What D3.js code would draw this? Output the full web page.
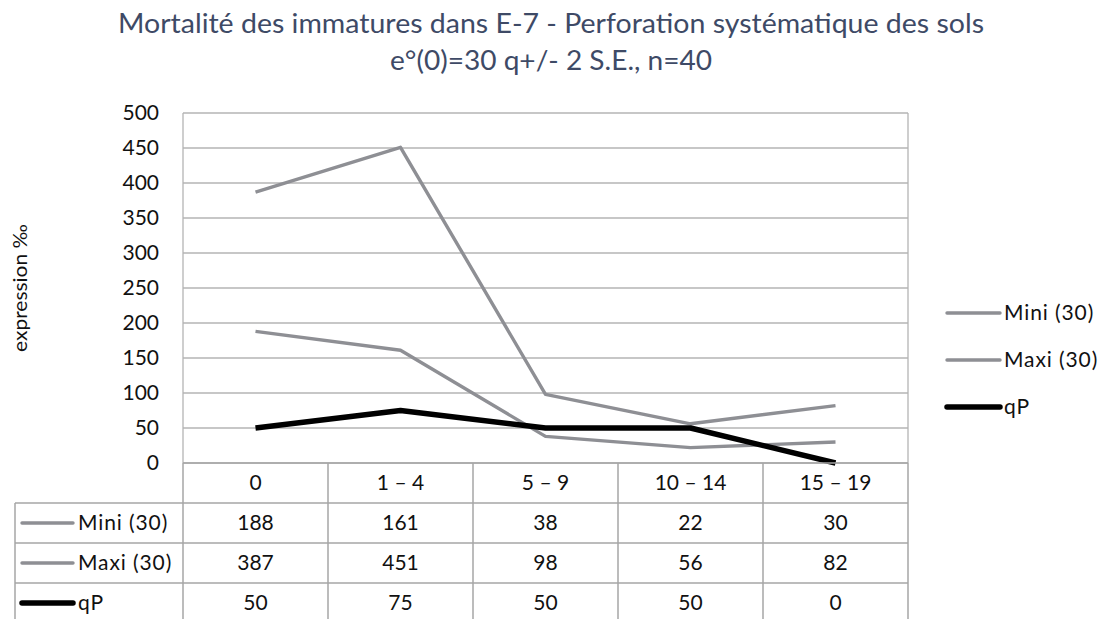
<!DOCTYPE html>
<html>
<head>
<meta charset="utf-8">
<script src="https://cdn.jsdelivr.net/npm/d3@7"></script>
<style>
  html, body { margin: 0; padding: 0; background: #fff; }
  svg { display: block; }
  text { font-family: Lato, "Open Sans", sans-serif; }
</style>
</head>
<body>
<svg id="chart" width="1107" height="619"></svg>
<script>
// Age groups (x categories)
const categories = ["0", "1 – 4", "5 – 9", "10 – 14", "15 – 19"];
// Mortality series, per thousand
const miniValues = [188, 161, 38, 22, 30];
const maxiValues = [387, 451, 98, 56, 82];
const qpValues = [50, 75, 50, 50, 0];
const yTicks = [0, 50, 100, 150, 200, 250, 300, 350, 400, 450, 500];

const series = [
  { name: "Mini (30)", values: miniValues, color: "#8e8f94", width: 3.4 },
  { name: "Maxi (30)", values: maxiValues, color: "#8e8f94", width: 3.4 },
  { name: "qP", values: qpValues, color: "#000000", width: 5.5 }
];

const svg = d3.select("#chart");
const plot = { left: 183, right: 908, top: 113, bottom: 463 };
const tableLeft = 15;
const rowH = 40;
const labelSize = 21;

const x = d3.scaleBand().domain(categories).range([plot.left, plot.right]);
const y = d3.scaleLinear().domain([0, 500]).range([plot.bottom, plot.top]);

// Stretch a text element to a given width
function fitWidth(sel, w) {
  sel.attr("textLength", w).attr("lengthAdjust", "spacingAndGlyphs");
}

// Title
const title = svg.append("g").attr("fill", "#3e4a66").attr("font-size", 26).attr("text-anchor", "middle");
title.append("text").attr("x", 551).attr("y", 33)
  .text("Mortalité des immatures dans E-7 - Perforation systématique des sols")
  .call(fitWidth, 866);
title.append("text").attr("x", 551).attr("y", 70)
  .text("e°(0)=30 q+/- 2 S.E., n=40")
  .call(fitWidth, 322);

// Horizontal gridlines
svg.append("g").selectAll("line").data(yTicks).join("line")
  .attr("x1", plot.left).attr("x2", plot.right)
  .attr("y1", d => y(d)).attr("y2", d => y(d))
  .attr("stroke", "#b4b4b4").attr("stroke-width", 1.3);

// Plot frame sides
svg.append("line").attr("x1", plot.left).attr("x2", plot.left).attr("y1", plot.top).attr("y2", plot.bottom)
  .attr("stroke", "#b4b4b4").attr("stroke-width", 1.3);
svg.append("line").attr("x1", plot.right).attr("x2", plot.right).attr("y1", plot.top).attr("y2", plot.bottom)
  .attr("stroke", "#b4b4b4").attr("stroke-width", 1.3);

// Y axis labels
const yAxis = d3.axisLeft(y).tickValues(yTicks).tickSize(0).tickPadding(0).tickFormat(d3.format("d"));
const yg = svg.append("g").attr("transform", `translate(${plot.left - 24},0)`).call(yAxis);
yg.select(".domain").remove();
yg.selectAll("text").attr("font-size", labelSize).attr("fill", "#111").attr("font-family", "Lato, sans-serif");

// Y axis title
svg.append("text")
  .attr("transform", "translate(27,288) rotate(-90)")
  .attr("text-anchor", "middle").attr("font-size", 19).attr("fill", "#111")
  .text("expression ‰")
  .call(fitWidth, 128);

// Series lines
const line = d3.line().x((d, i) => x(categories[i]) + x.bandwidth() / 2).y(d => y(d));
svg.append("g").selectAll("path").data(series).join("path")
  .attr("d", d => line(d.values))
  .attr("fill", "none")
  .attr("stroke", d => d.color)
  .attr("stroke-width", d => d.width)
  .attr("stroke-linejoin", "round");

// Legend
const legend = svg.append("g");
series.forEach((s, i) => {
  const ly = 313 + i * 47;
  legend.append("line").attr("x1", 947).attr("x2", 1000).attr("y1", ly).attr("y2", ly)
    .attr("stroke", s.color).attr("stroke-width", s.width).attr("stroke-linecap", "round");
  legend.append("text").attr("x", 1004).attr("y", ly).attr("dy", "0.35em")
    .attr("font-size", labelSize).attr("letter-spacing", 0.9).attr("fill", "#111").text(s.name);
});

// Data table
const table = svg.append("g");
const borderColor = "#a6a6a6";
const headerTop = plot.bottom;
const tableBottom = headerTop + rowH * (series.length + 1);
// header column labels
table.selectAll("text.cat").data(categories).join("text")
  .attr("class", "cat")
  .attr("x", d => x(d) + x.bandwidth() / 2).attr("y", headerTop + rowH / 2).attr("dy", "0.35em")
  .attr("text-anchor", "middle").attr("font-size", labelSize).attr("fill", "#111").text(d => d);
// horizontal borders
table.append("line").attr("x1", plot.left).attr("x2", plot.right).attr("y1", headerTop).attr("y2", headerTop)
  .attr("stroke", borderColor).attr("stroke-width", 1.5);
d3.range(1, series.length + 2).forEach(r => {
  const yy = headerTop + r * rowH;
  table.append("line").attr("x1", tableLeft).attr("x2", plot.right).attr("y1", yy).attr("y2", yy)
    .attr("stroke", borderColor).attr("stroke-width", 1.5);
});
// vertical borders
table.append("line").attr("x1", tableLeft).attr("x2", tableLeft).attr("y1", headerTop + rowH).attr("y2", tableBottom)
  .attr("stroke", borderColor).attr("stroke-width", 1.5);
const colEdges = categories.map(c => x(c)).concat([plot.right]);
colEdges.forEach(cx => {
  table.append("line").attr("x1", cx).attr("x2", cx).attr("y1", headerTop).attr("y2", tableBottom)
    .attr("stroke", borderColor).attr("stroke-width", 1.5);
});
// rows
series.forEach((s, r) => {
  const cy = headerTop + (r + 1) * rowH + rowH / 2;
  table.append("line").attr("x1", 22).attr("x2", 73).attr("y1", cy).attr("y2", cy)
    .attr("stroke", s.color).attr("stroke-width", s.width).attr("stroke-linecap", "round");
  table.append("text").attr("x", 78).attr("y", cy).attr("dy", "0.35em")
    .attr("font-size", labelSize).attr("letter-spacing", 0.9).attr("fill", "#111").text(s.name);
  table.selectAll(null).data(s.values).join("text")
    .attr("x", (d, i) => x(categories[i]) + x.bandwidth() / 2).attr("y", cy).attr("dy", "0.35em")
    .attr("text-anchor", "middle").attr("font-size", labelSize).attr("fill", "#111").text(d => d);
});
</script>
</body>
</html>
